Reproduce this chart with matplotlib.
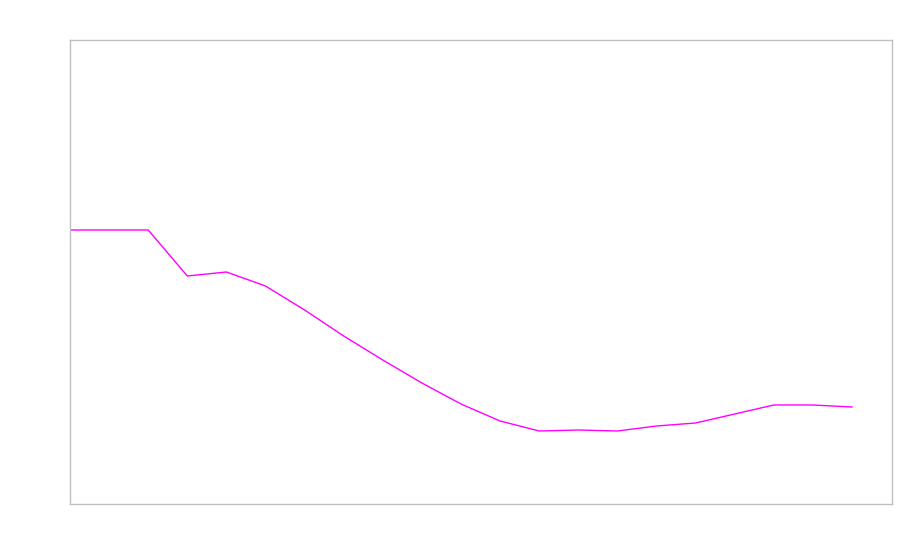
import matplotlib
matplotlib.use("Agg")
import matplotlib.pyplot as plt

# step index and values
steps = list(range(21))
values = [274, 274, 274, 228, 232, 218, 194, 168, 144, 121, 100,
          83, 73, 74, 73, 78, 81, 90, 99, 99, 97]

fig = plt.figure(figsize=(9, 5.6), dpi=100)
ax = fig.add_axes([70 / 900, 56 / 560, 822 / 900, 464 / 560])

ax.plot(steps, values, color="#ff00ff", linewidth=1)

ax.set_xlim(0, 822 / 39.1)
ax.set_ylim(0, 464)
ax.set_xticks([])
ax.set_yticks([])
for s in ax.spines.values():
    s.set_color("#c0c0c0")
    s.set_linewidth(1)

fig.savefig("out.png", dpi=100)
